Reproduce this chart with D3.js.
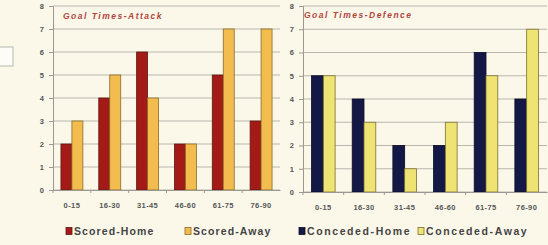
<!DOCTYPE html>
<html>
<head>
<meta charset="utf-8">
<script src="https://cdn.jsdelivr.net/npm/d3@7"></script>
<style>
  body { margin: 0; background: #fbf8ea; }
  svg { display: block; font-family: Arial, "Liberation Sans", sans-serif; }
</style>
</head>
<body>
<div id="chart"></div>
<script>
const width = 548, height = 245;

const categories = ["0-15", "16-30", "31-45", "46-60", "61-75", "76-90"];
const yTicks = [0, 1, 2, 3, 4, 5, 6, 7, 8];

const scoredHome = [2, 4, 6, 2, 5, 3];
const scoredAway = [3, 5, 4, 2, 7, 7];
const concededHome = [5, 4, 2, 2, 6, 4];
const concededAway = [5, 3, 1, 3, 5, 7];

const svg = d3.select("#chart")
  .append("svg")
    .attr("width", width)
    .attr("height", height)
    .attr("viewBox", [0, 0, width, height]);

svg.append("rect")
  .attr("width", width).attr("height", height)
  .attr("fill", "#fbf8ea");

// stray empty box on the left edge
svg.append("rect")
  .attr("x", -1).attr("y", 47)
  .attr("width", 14).attr("height", 19)
  .attr("fill", "#fdfcf6")
  .attr("stroke", "#b8b8b0")
  .attr("stroke-width", 1);

const drawPanel = (opts) => {
  const { x0, x1, y0, y1, title, titleX, titleY, seriesA, seriesB, names, colors, strokes, legendY, legendX, legendSpacing } = opts;

  const xScale = d3.scaleBand()
    .domain(categories)
    .range([x0, x1])
    .paddingInner(0.42)
    .paddingOuter(0.21);

  const xSub = d3.scaleBand()
    .domain([0, 1])
    .range([0, xScale.bandwidth()]);

  const yScale = d3.scaleLinear()
    .domain([0, 8])
    .range([y0, y1]);

  const g = svg.append("g");

  // gridlines
  g.selectAll(".grid")
    .data(yTicks)
    .join("line")
      .attr("x1", x0).attr("x2", x1)
      .attr("y1", d => yScale(d)).attr("y2", d => yScale(d))
      .attr("stroke", "#b9b7ad")
      .attr("stroke-width", 1);

  const leftAxis = d3.axisLeft(yScale)
    .tickValues(yTicks)
    .tickSize(4)
    .tickFormat(d3.format("d"));
  const yAxis = g.append("g")
    .attr("transform", `translate(${x0}, 0)`)
    .call(leftAxis);
  yAxis.select(".domain").attr("stroke", "#9a9890");
  yAxis.selectAll(".tick line").attr("stroke", "#9a9890");
  yAxis.selectAll(".tick text")
    .attr("font-size", 7.5).attr("font-weight", "bold")
    .attr("fill", "#555").attr("dx", "-2px");

  // bars
  const rows = categories.map((c, i) => ({ cat: c, vals: [seriesA[i], seriesB[i]] }));
  rows.forEach(r => {
    g.selectAll(null)
      .data(r.vals)
      .join("rect")
        .attr("x", (d, j) => xScale(r.cat) + xSub(j))
        .attr("y", d => yScale(d))
        .attr("width", xSub.bandwidth())
        .attr("height", d => yScale(0) - yScale(d))
        .attr("fill", (d, j) => colors[j])
        .attr("stroke", (d, j) => strokes[j])
        .attr("stroke-width", 0.8);
  });

  // x axis
  const step = xScale.step();
  const bottomAxis = d3.axisBottom(xScale).tickSize(0).tickSizeOuter(0);
  const xAxis = g.append("g")
    .attr("transform", `translate(0, ${y0})`)
    .call(bottomAxis);
  xAxis.select(".domain").attr("stroke", "#9a9890");
  xAxis.selectAll(".tick text")
    .attr("font-size", 7.5).attr("font-weight", "bold")
    .attr("letter-spacing", 0.4)
    .attr("fill", "#555").attr("dy", "15px");
  g.selectAll(".xtick")
    .data(categories)
    .join("line")
      .attr("x1", d => xScale(d) - (step - xScale.bandwidth()) / 2)
      .attr("x2", d => xScale(d) - (step - xScale.bandwidth()) / 2)
      .attr("y1", y0).attr("y2", y0 + 3)
      .attr("stroke", "#9a9890");

  // title
  g.append("text")
    .attr("x", titleX).attr("y", titleY)
    .attr("font-size", 8.5).attr("font-weight", "bold").attr("font-style", "italic")
    .attr("letter-spacing", 1.5)
    .attr("fill", "#b0443c")
    .text(title);

  // legend
  const leg = g.append("g").attr("transform", `translate(0, ${legendY})`);
  names.forEach((n, j) => {
    leg.append("rect")
      .attr("x", legendX[j]).attr("y", -3.5)
      .attr("width", 6).attr("height", 7)
      .attr("fill", colors[j]).attr("stroke", strokes[j]).attr("stroke-width", 0.8);
    leg.append("text")
      .attr("x", legendX[j] + 8).attr("y", 4)
      .attr("font-size", 10.5).attr("font-weight", "bold")
      .attr("letter-spacing", legendSpacing)
      .attr("fill", "#444")
      .text(n);
  });
};

drawPanel({
  x0: 53, x1: 280, y0: 190, y1: 6,
  title: "Goal Times-Attack", titleX: 63, titleY: 19,
  seriesA: scoredHome, seriesB: scoredAway,
  names: ["Scored-Home", "Scored-Away"],
  colors: ["#a41a16", "#f2bd4e"],
  strokes: ["#5a1a10", "#8a6a2a"],
  legendY: 231, legendX: [66, 185], legendSpacing: 1.1
});

drawPanel({
  x0: 303, x1: 547, y0: 192, y1: 6,
  title: "Goal Times-Defence", titleX: 304, titleY: 18,
  seriesA: concededHome, seriesB: concededAway,
  names: ["Conceded-Home", "Conceded-Away"],
  colors: ["#141846", "#efe373"],
  strokes: ["#0a0a20", "#7a7030"],
  legendY: 231, legendX: [299, 418], legendSpacing: 1.6
});
</script>
</body>
</html>
